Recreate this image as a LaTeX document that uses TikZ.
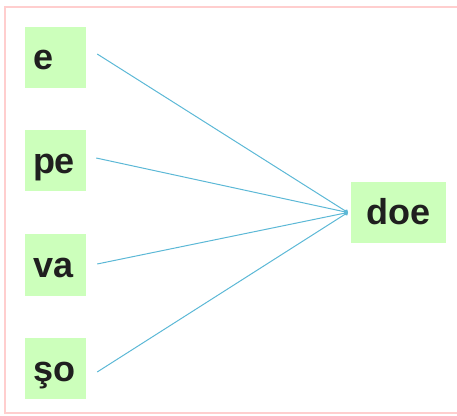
\documentclass[tikz,border=0pt]{standalone}
\usepackage{fontspec}
\setmainfont{Liberation Sans}
\usetikzlibrary{calc,arrows.meta}
\definecolor{boxgreen}{RGB}{204,255,187}
\definecolor{linkblue}{RGB}{92,184,214}
\definecolor{framepink}{RGB}{255,206,206}
\tikzset{>=stealth}
\tikzset{
  word/.style={fill=boxgreen,font=\fontsize{36}{40}\selectfont\bfseries,
    text=black!88,text height=28pt,text depth=3pt,inner ysep=15pt},
  leftword/.style={word,text width=45pt,inner xsep=8pt,align=left},
  link/.style={linkblue,line width=1pt,-{Circle[length=4pt]}}
}

\begin{document}
\begin{tikzpicture}[x=1pt,y=1pt]
\useasboundingbox (0,0) rectangle (457,415);

% Frame
\draw[framepink,line width=2pt] (5,2) rectangle (462,408);

% Left column
\node[leftword] (e)  at (55.5,357.5) {e};
\node[leftword] (pe) at (55.5,254) {pe};
\node[leftword] (va) at (55.5,150) {va};
\node[leftword] (so) at (55.5,46.5) {şo};

% Right word
\node[word,minimum width=95pt] (doe) at (398.5,202.5) {doe};

% Line ends
\coordinate (e1)  at ($(e.east)+(11,3.5)$);
\coordinate (pe1) at ($(pe.east)+(10,3)$);
\coordinate (va1) at ($(va.east)+(11,1)$);
\coordinate (so1) at ($(so.east)+(11,-3.5)$);
\coordinate (join) at ($(doe.west)+(-3,0)$);

\draw[link] (e1) -- (join);
\draw[link] (pe1) -- (join);
\draw[link] (va1) -- (join);
\draw[link] (so1) -- (join);
\end{tikzpicture}
\end{document}
